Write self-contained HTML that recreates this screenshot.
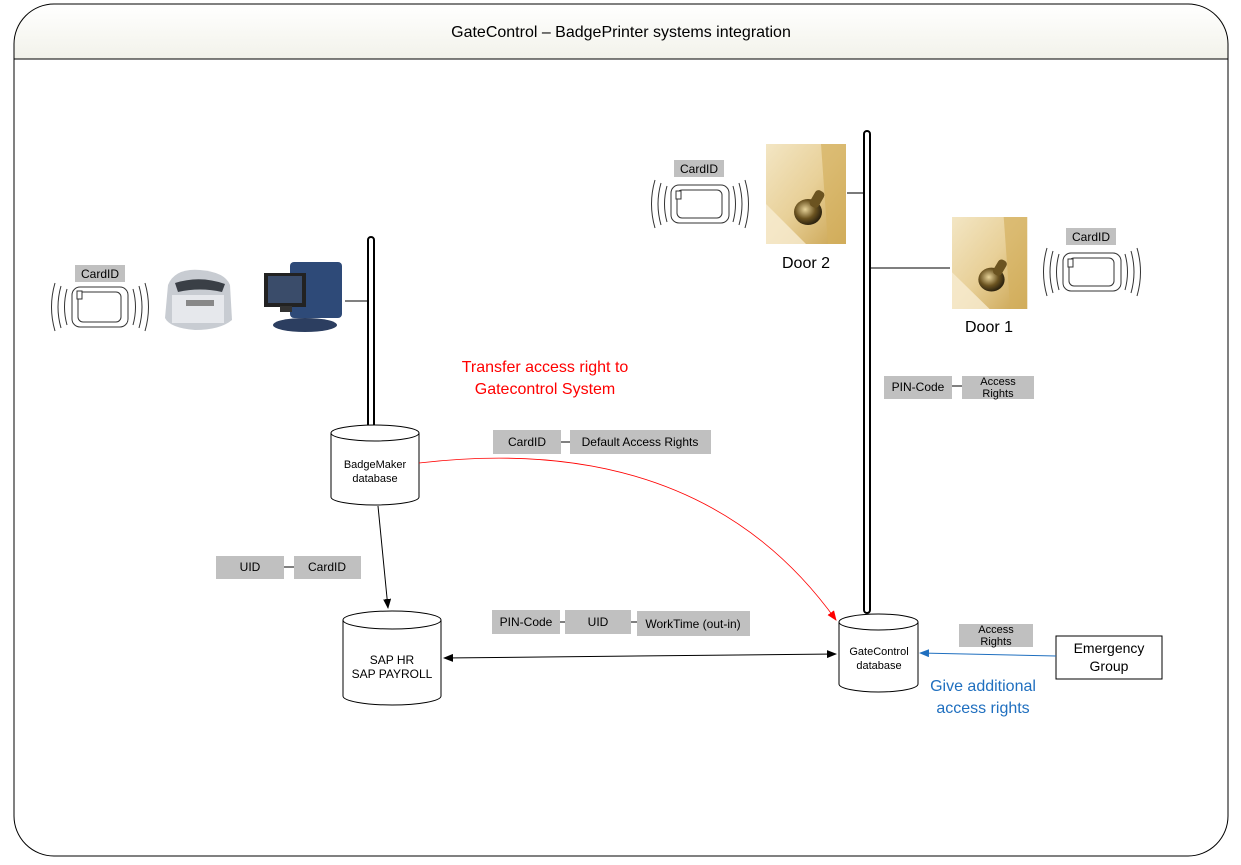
<!DOCTYPE html>
<html><head><meta charset="utf-8"><style>
html,body{margin:0;padding:0;background:#fff}
svg{display:block;font-family:"Liberation Sans",Arial,sans-serif}
</style></head><body>
<svg width="1241" height="865" viewBox="0 0 1241 865" xmlns="http://www.w3.org/2000/svg">
<defs>
<linearGradient id="hd" x1="0" y1="0" x2="0" y2="1"><stop offset="0" stop-color="#fff"/><stop offset="1" stop-color="#f2f2ea"/></linearGradient>
<linearGradient id="door" x1="0" y1="0" x2="1" y2="1"><stop offset="0" stop-color="#f3e6c4"/><stop offset="0.5" stop-color="#e8d098"/><stop offset="1" stop-color="#c9a24e"/></linearGradient>
<radialGradient id="knob" cx="0.4" cy="0.4" r="0.6"><stop offset="0" stop-color="#e8d49a"/><stop offset="0.6" stop-color="#6b5320"/><stop offset="1" stop-color="#2e2410"/></radialGradient>
<marker id="ab" markerWidth="10" markerHeight="8" refX="9" refY="4" orient="auto" markerUnits="userSpaceOnUse"><path d="M0,0 L10,4 L0,8 z" fill="#000"/></marker>
<marker id="abs" markerWidth="10" markerHeight="8" refX="1" refY="4" orient="auto" markerUnits="userSpaceOnUse"><path d="M10,0 L0,4 L10,8 z" fill="#000"/></marker>
<marker id="ar" markerWidth="10" markerHeight="8" refX="9" refY="4" orient="auto" markerUnits="userSpaceOnUse"><path d="M0,0 L10,4 L0,8 z" fill="#f00"/></marker>
<marker id="abl" markerWidth="10" markerHeight="8" refX="9" refY="4" orient="auto" markerUnits="userSpaceOnUse"><path d="M0,0 L10,4 L0,8 z" fill="#1f6fbf"/></marker>
<g id="card">
<path d="M-33,-18 Q-38,0 -33,18 M-39,-21 Q-45,0 -39,21 M-45,-24 Q-52,0 -45,24" fill="none" stroke="#333" stroke-width="1"/>
<path d="M33,-18 Q38,0 33,18 M39,-21 Q45,0 39,21 M45,-24 Q52,0 45,24" fill="none" stroke="#333" stroke-width="1"/>
</g>
<g id="doorimg">
<rect x="0" y="0" width="80" height="100" fill="url(#door)"/>
<path d="M55,0 L80,0 L80,100 L62,100 Z" fill="#d4b060" opacity="0.7"/>
<path d="M0,60 L40,100 L0,100 Z" fill="#f7ecd2" opacity="0.8"/>
<ellipse cx="42" cy="68" rx="14" ry="13" fill="url(#knob)"/>
<rect x="46" y="46" width="10" height="18" rx="4" fill="#6b5320" transform="rotate(30 51 55)"/>
</g>
</defs>

<path d="M54,4 H1188 Q1228,4 1228,44 V59 H14 V44 Q14,4 54,4 Z" fill="url(#hd)"/>
<rect x="14" y="4" width="1214" height="852" rx="40" ry="40" fill="none" stroke="#000" stroke-width="1"/>
<line x1="14" y1="59" x2="1228" y2="59" stroke="#000"/>
<text x="621" y="37" font-size="16" text-anchor="middle">GateControl – BadgePrinter systems integration</text>

<rect x="368" y="237" width="6" height="192" rx="3" fill="#fff" stroke="#000" stroke-width="2"/>
<rect x="864" y="131" width="6" height="482" rx="3" fill="#fff" stroke="#000" stroke-width="2"/>
<line x1="345" y1="301" x2="367" y2="301" stroke="#000"/>
<line x1="847" y1="193" x2="863" y2="193" stroke="#333" stroke-width="1.3"/>
<line x1="871" y1="268" x2="950" y2="268" stroke="#333" stroke-width="1.3"/>

<rect x="75" y="265" width="50" height="17" fill="#c0c0c0"/>
<text x="100" y="278" font-size="12" text-anchor="middle">CardID</text>
<rect x="72" y="287" width="56" height="40" rx="8" fill="#fff" stroke="#333"/>
<rect x="78" y="292" width="43" height="30" rx="5" fill="none" stroke="#333"/>
<rect x="77" y="291" width="5" height="8" fill="#fff" stroke="#333"/>
<use href="#card" x="100" y="307"/>

<path d="M168,285 Q175,268 200,270 Q225,272 230,285 L232,320 Q220,330 195,330 Q170,328 165,318 Z" fill="#c8ccd2"/>
<path d="M175,283 Q200,275 225,284 L222,292 Q200,287 178,292 Z" fill="#3a3f46"/>
<rect x="172" y="295" width="52" height="28" fill="#e6e8ec"/>
<rect x="186" y="300" width="28" height="6" fill="#888"/>

<rect x="290" y="262" width="52" height="56" rx="4" fill="#2e4a78"/>
<rect x="264" y="273" width="42" height="34" fill="#222"/>
<rect x="268" y="276" width="34" height="27" fill="#3a4c6a"/>
<rect x="280" y="306" width="12" height="6" fill="#333"/>
<ellipse cx="305" cy="325" rx="32" ry="7" fill="#2c3e60"/>

<use href="#doorimg" x="766" y="144"/>
<text x="806" y="268" font-size="16" text-anchor="middle">Door 2</text>
<rect x="674" y="160" width="50" height="17" fill="#c0c0c0"/>
<text x="699" y="173" font-size="12" text-anchor="middle">CardID</text>
<rect x="671" y="185" width="58" height="38" rx="8" fill="#fff" stroke="#333"/>
<rect x="677" y="190" width="45" height="28" rx="5" fill="none" stroke="#333"/>
<rect x="676" y="191" width="5" height="8" fill="#fff" stroke="#333"/>
<use href="#card" x="700" y="204"/>

<g transform="translate(952,217) scale(0.94,0.92)"><use href="#doorimg"/></g>
<text x="989" y="332" font-size="16" text-anchor="middle">Door 1</text>
<rect x="1066" y="228" width="50" height="17" fill="#c0c0c0"/>
<text x="1091" y="241" font-size="12" text-anchor="middle">CardID</text>
<rect x="1063" y="253" width="58" height="38" rx="8" fill="#fff" stroke="#333"/>
<rect x="1069" y="258" width="45" height="28" rx="5" fill="none" stroke="#333"/>
<rect x="1068" y="259" width="5" height="8" fill="#fff" stroke="#333"/>
<use href="#card" x="1092" y="272"/>

<g font-size="12" text-anchor="middle">
<rect x="884" y="376" width="68" height="23" fill="#c0c0c0"/><text x="918" y="391">PIN-Code</text>
<line x1="952" y1="386" x2="962" y2="386" stroke="#000"/>
<rect x="962" y="376" width="72" height="23" fill="#c0c0c0"/><text x="998" y="385" font-size="11">Access</text><text x="998" y="397" font-size="11">Rights</text>

<rect x="493" y="430" width="68" height="24" fill="#c0c0c0"/><text x="527" y="446">CardID</text>
<line x1="561" y1="442" x2="570" y2="442" stroke="#000"/>
<rect x="570" y="430" width="141" height="24" fill="#c0c0c0"/><text x="640" y="446">Default Access Rights</text>

<rect x="216" y="556" width="68" height="23" fill="#c0c0c0"/><text x="250" y="571">UID</text>
<line x1="284" y1="567" x2="294" y2="567" stroke="#000"/>
<rect x="294" y="556" width="67" height="23" fill="#c0c0c0"/><text x="327" y="571">CardID</text>

<rect x="492" y="610" width="68" height="24" fill="#c0c0c0"/><text x="526" y="626">PIN-Code</text>
<line x1="560" y1="622" x2="565" y2="622" stroke="#000"/>
<rect x="565" y="610" width="66" height="24" fill="#c0c0c0"/><text x="598" y="626">UID</text>
<line x1="631" y1="622" x2="637" y2="622" stroke="#000"/>
<rect x="637" y="611" width="113" height="25" fill="#c0c0c0"/><text x="693" y="628">WorkTime (out-in)</text>

<rect x="959" y="624" width="74" height="23" fill="#c0c0c0"/><text x="996" y="633" font-size="11">Access</text><text x="996" y="645" font-size="11">Rights</text>
</g>

<g fill="#fff" stroke="#000" stroke-width="1">
<path d="M331,433 V497 A44,8 0 0 0 419,497 V433"/>
<ellipse cx="375" cy="433" rx="44" ry="8"/>
<path d="M343,620 V696 A49,9 0 0 0 441,696 V620"/>
<ellipse cx="392" cy="620" rx="49" ry="9"/>
<path d="M839,622 V684 A39.5,8 0 0 0 918,684 V622"/>
<ellipse cx="878.5" cy="622" rx="39.5" ry="8"/>
<rect x="1056" y="636" width="106" height="43"/>
</g>
<g font-size="11" text-anchor="middle">
<text x="375" y="468">BadgeMaker</text><text x="375" y="482">database</text>
<text x="879" y="655">GateControl</text><text x="879" y="669">database</text>
<text x="392" y="664" font-size="12">SAP HR</text><text x="392" y="678" font-size="12">SAP PAYROLL</text>
<text x="1109" y="653" font-size="14">Emergency</text><text x="1109" y="671" font-size="14">Group</text>
</g>

<line x1="378" y1="506" x2="388" y2="608" stroke="#000" marker-end="url(#ab)"/>
<line x1="444" y1="658" x2="836" y2="654" stroke="#000" marker-start="url(#abs)" marker-end="url(#ab)"/>
<path d="M419,463 Q700,430 836,620" fill="none" stroke="#f00" stroke-width="0.8" marker-end="url(#ar)"/>
<line x1="1056" y1="656" x2="920" y2="653" stroke="#1f6fbf" marker-end="url(#abl)"/>

<g font-size="16" text-anchor="middle">
<text x="545" y="372" fill="#f00">Transfer access right to</text>
<text x="545" y="394" fill="#f00">Gatecontrol System</text>
<text x="983" y="691" fill="#1f6fbf">Give additional</text>
<text x="983" y="713" fill="#1f6fbf">access rights</text>
</g>
</svg>
</body></html>
